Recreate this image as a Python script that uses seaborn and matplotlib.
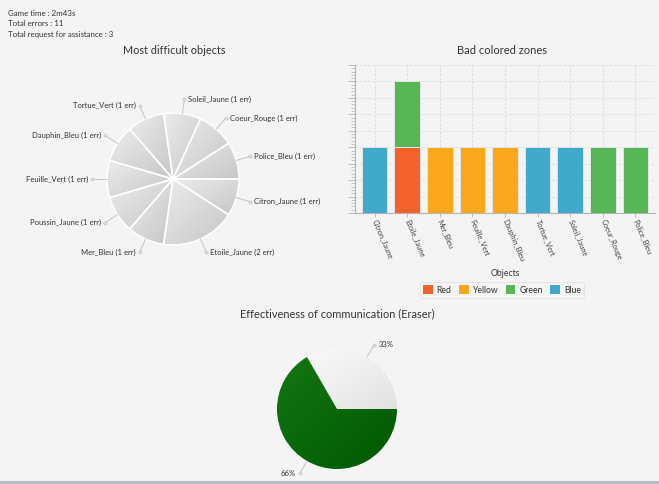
import numpy as np
import pandas as pd
import matplotlib
matplotlib.use("Agg")
import matplotlib.pyplot as plt
from matplotlib.patches import Patch, Rectangle
from matplotlib.colors import LinearSegmentedColormap
from matplotlib.ticker import MultipleLocator, AutoMinorLocator, NullFormatter
import seaborn as sns

sns.set_theme(style="white")
plt.rcParams["font.family"] = ["Lato", "DejaVu Sans"]

# -----------------------------
# Data
# -----------------------------
game_time = "2m43s"
total_errors = 11
total_requests = 3

pie_objects = ["Police_Bleu", "Coeur_Rouge", "Soleil_Jaune", "Tortue_Vert", "Dauphin_Bleu",
               "Feuille_Vert", "Poussin_Jaune", "Mer_Bleu", "Etoile_Jaune", "Citron_Jaune"]
pie_errors = [1, 1, 1, 1, 1, 1, 1, 1, 2, 1]

bar_objects = ["Citron_Jaune", "Etoile_Jaune", "Mer_Bleu", "Feuille_Vert", "Dauphin_Bleu",
               "Tortue_Vert", "Soleil_Jaune", "Coeur_Rouge", "Police_Bleu"]
base_colors = ["Blue", "Red", "Yellow", "Yellow", "Yellow", "Blue", "Blue", "Green", "Green"]
base_counts = [1, 1, 1, 1, 1, 1, 1, 1, 1]
top_objects = ["Etoile_Jaune"]
top_colors = ["Green"]
top_counts = [1]

color_names = ["Red", "Yellow", "Green", "Blue"]
color_values = ["#f3622d", "#fba71b", "#57b757", "#41a9c9"]

comm_labels = ["33%", "66%"]
comm_values = [1, 2]

BG = "#f4f4f4"
W, H = 659, 484

fig = plt.figure(figsize=(W / 100, H / 100), dpi=100, facecolor=BG)


def px_axes(cx, cy, half_w, half_h):
    # axes box given in pixels (origin top-left)
    return fig.add_axes([(cx - half_w) / W, (H - cy - half_h) / H, 2 * half_w / W, 2 * half_h / H])


def shade_wedges(ax, wedges, light, dark):
    cmap = LinearSegmentedColormap.from_list("g", [light, dark])
    grad = np.add.outer(np.linspace(0, 1, 64), np.linspace(0, 1, 64)) / 2
    for w in wedges:
        bb = w.get_path().get_extents()
        im = ax.imshow(grad, cmap=cmap, extent=[bb.x0, bb.x1, bb.y0, bb.y1],
                       origin="upper", zorder=0.5, interpolation="bilinear")
        im.set_clip_path(w)
        w.set_facecolor("none")


def label_wedges(ax, wedges, labels, r_out, gap, fontsize):
    for w, lab in zip(wedges, labels):
        ang = np.deg2rad((w.theta1 + w.theta2) / 2)
        c, s = np.cos(ang), np.sin(ang)
        ax.plot([c * 1.0, c * r_out], [s * 1.0, s * r_out], color="#c4c4c4", lw=0.7,
                clip_on=False, zorder=2)
        ax.plot([c * r_out], [s * r_out], marker="o", ms=2.2, mfc="#e0e0e0", mec="#c4c4c4",
                mew=0.5, clip_on=False, zorder=3)
        if c >= 0:
            ax.text(c * r_out + gap, s * r_out, lab, ha="left", va="center",
                    fontsize=fontsize, color="#333333", clip_on=False)
        else:
            ax.text(c * r_out - gap, s * r_out, lab, ha="right", va="center",
                    fontsize=fontsize, color="#333333", clip_on=False)


# -----------------------------
# Header text
# -----------------------------
fig.text(8 / W, 1 - 13 / H, f"Game time : {game_time}", fontsize=5.7, color="#333333", va="center")
fig.text(8 / W, 1 - 23.5 / H, f"Total errors : {total_errors}", fontsize=5.7, color="#333333", va="center")
fig.text(8 / W, 1 - 34 / H, f"Total request for assistance : {total_requests}", fontsize=5.7,
         color="#333333", va="center")

# -----------------------------
# Pie 1 : Most difficult objects
# -----------------------------
fig.text(174 / W, 1 - 51 / H, "Most difficult objects", fontsize=7.8, color="#333333",
         ha="center", va="center")
ax1 = px_axes(173, 179, 132, 132)
wedges1, _ = ax1.pie(pie_errors, startangle=0, counterclock=True, radius=1,
                     colors=["#d6d6d6"] * len(pie_errors),
                     wedgeprops=dict(edgecolor="white", linewidth=1.1))
shade_wedges(ax1, wedges1, "#ececec", "#c6c6c6")
label_wedges(ax1, wedges1, [f"{o} ({e} err)" for o, e in zip(pie_objects, pie_errors)],
             1.22, 0.06, 5.5)
ax1.set_xlim(-2, 2)
ax1.set_ylim(-2, 2)
ax1.set_aspect("equal")
ax1.axis("off")

# -----------------------------
# Bar chart : Bad colored zones
# -----------------------------
fig.text(502 / W, 1 - 51 / H, "Bad colored zones", fontsize=8, color="#333333",
         ha="center", va="center")
ax2 = fig.add_axes([355 / W, (H - 213) / H, 300 / W, 148 / H], facecolor=BG)
palette = dict(zip(color_names, color_values))
sns.barplot(x=bar_objects, y=base_counts, hue=base_colors, hue_order=color_names,
            order=bar_objects, palette=palette, dodge=False, width=0.79, errorbar=None,
            saturation=1, edgecolor="#e4e4e4", linewidth=0.7, legend=False, ax=ax2, zorder=3)
top_bottom = base_counts[bar_objects.index(top_objects[0])]
sns.barplot(x=top_objects, y=top_counts, hue=top_colors, hue_order=color_names,
            order=bar_objects, palette=palette, dodge=False, width=0.79, errorbar=None,
            saturation=1, edgecolor="#e4e4e4", linewidth=0.7, legend=False, ax=ax2,
            bottom=top_bottom, zorder=3)
ax2.set_xlim(-0.6, len(bar_objects) - 0.4)
ax2.set_ylim(0, 2.25)
ax2.yaxis.set_major_locator(MultipleLocator(0.25))
ax2.yaxis.set_minor_locator(AutoMinorLocator(5))
ax2.yaxis.set_major_formatter(NullFormatter())
ax2.grid(True, which="major", color="#dcdcdc", linestyle=(0, (3, 2)), linewidth=0.6, zorder=0)
ax2.set_axisbelow(True)
for side in ["top", "right"]:
    ax2.spines[side].set_visible(False)
for side in ["left", "bottom"]:
    ax2.spines[side].set_color("#b4b4b4")
    ax2.spines[side].set_linewidth(0.8)
ax2.tick_params(axis="y", which="major", left=True, length=5, width=0.6, color="#b4b4b4")
ax2.tick_params(axis="y", which="minor", left=True, length=3, width=0.5, color="#b4b4b4")
ax2.tick_params(axis="x", bottom=True, length=3, width=0.6, color="#b4b4b4", pad=2)
ax2.set_xticks(range(len(bar_objects)))
ax2.set_xticklabels(bar_objects, rotation=-67, rotation_mode="anchor", ha="left", va="center",
                    fontsize=5.3, color="#444444")
ax2.set_ylabel("")
ax2.set_xlabel("Objects", fontsize=6.2, color="#333333")
ax2.xaxis.set_label_coords(0.5, -0.378)

handles = [Patch(facecolor=c, edgecolor="none") for c in color_values]
leg = ax2.legend(handles, color_names, ncol=4, loc="center",
                 bbox_to_anchor=(502 / W, 1 - 290 / H), bbox_transform=fig.transFigure,
                 fontsize=6.2, frameon=True, handlelength=1.1, handleheight=1.1,
                 handletextpad=0.45, columnspacing=0.9, borderpad=0.35, fancybox=True)
leg.get_frame().set_facecolor(BG)
leg.get_frame().set_edgecolor("#dedede")
leg.get_frame().set_linewidth(0.6)
for t in leg.get_texts():
    t.set_color("#333333")

# -----------------------------
# Pie 2 : Effectiveness of communication
# -----------------------------
fig.text(337 / W, 1 - 314 / H, "Effectiveness of communication (Eraser)", fontsize=7.9,
         color="#333333", ha="center", va="center")
ax3 = px_axes(337, 409, 81, 81)
wedges3, _ = ax3.pie(comm_values, startangle=0, counterclock=True, radius=1,
                     colors=["#eeeeee", "#0a6a0a"],
                     wedgeprops=dict(edgecolor="none", linewidth=0))
shade_wedges(ax3, [wedges3[0]], "#fafafa", "#e2e2e2")
shade_wedges(ax3, [wedges3[1]], "#137613", "#005800")
label_wedges(ax3, wedges3, comm_labels, 1.24, 0.07, 5.6)
ax3.set_xlim(-1.35, 1.35)
ax3.set_ylim(-1.35, 1.35)
ax3.set_aspect("equal")
ax3.axis("off")

# bottom border of the window
fig.add_artist(Rectangle((0, 0), 1, 3 / H, transform=fig.transFigure,
                         facecolor="#b4bcc4", edgecolor="none"))

plt.savefig("out.png", dpi=100, facecolor=BG)
